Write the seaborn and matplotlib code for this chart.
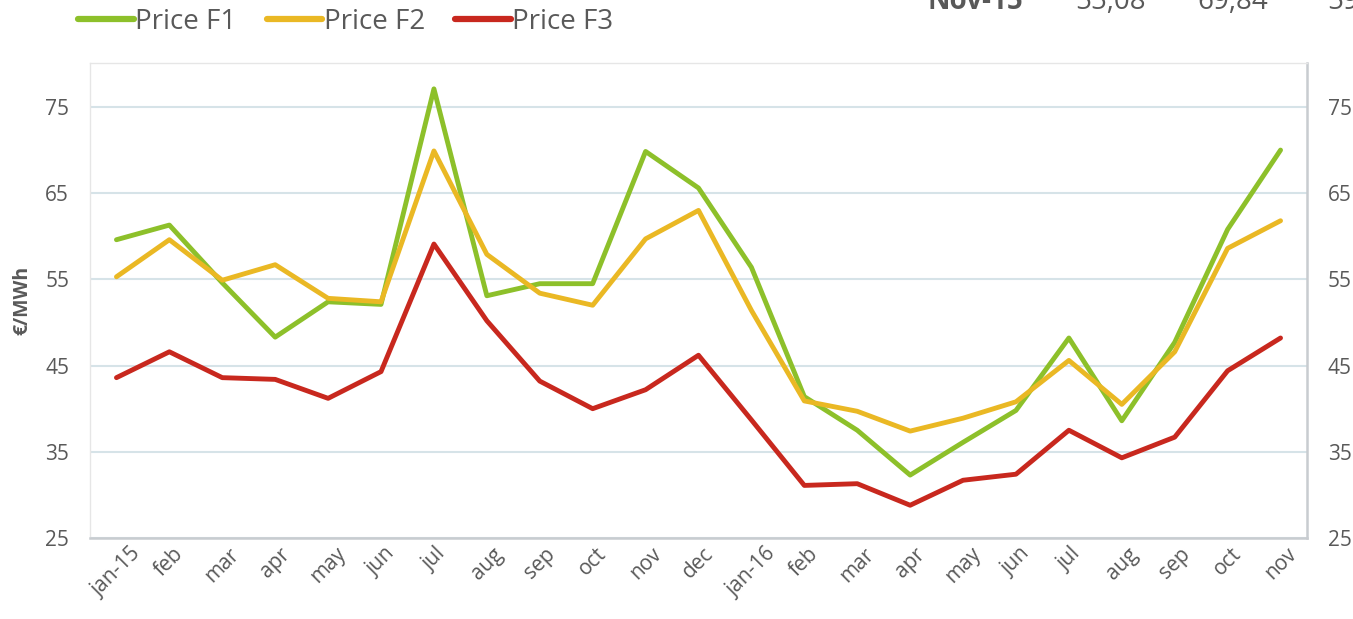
import numpy as np
import pandas as pd
import matplotlib
matplotlib.use("Agg")
import matplotlib.pyplot as plt
import seaborn as sns
from matplotlib.lines import Line2D

months = ["jan-15", "feb", "mar", "apr", "may", "jun", "jul", "aug", "sep", "oct", "nov", "dec",
          "jan-16", "feb", "mar", "apr", "may", "jun", "jul", "aug", "sep", "oct", "nov"]
price_f1 = [59.6, 61.3, 54.6, 48.3, 52.4, 52.1, 77.1, 53.1, 54.5, 54.5, 69.84, 65.6,
            56.4, 41.4, 37.5, 32.3, 36.1, 39.8, 48.2, 38.6, 47.7, 60.8, 70.0]
price_f2 = [55.3, 59.6, 54.9, 56.7, 52.8, 52.4, 69.9, 57.9, 53.4, 52.0, 59.7, 63.0,
            51.4, 40.9, 39.7, 37.4, 38.9, 40.8, 45.6, 40.5, 46.6, 58.6, 61.8]
price_f3 = [43.6, 46.6, 43.6, 43.4, 41.2, 44.3, 59.1, 50.2, 43.2, 40.0, 42.2, 46.2,
            38.7, 31.1, 31.3, 28.8, 31.7, 32.4, 37.5, 34.3, 36.7, 44.4, 48.2]
series_names = ["Price F1", "Price F2", "Price F3"]
colors = ["#8dc02a", "#eab824", "#c8281e"]
yticks = [25, 35, 45, 55, 65, 75]
header_text = ["Nov-15", "55,08", "69,84", "59"]

sns.set_theme(style="white")
plt.rcParams['font.family'] = ['Open Sans', 'DejaVu Sans']

idx = np.arange(len(months))
df = pd.DataFrame({
    "x": np.tile(idx, 3),
    "value": price_f1 + price_f2 + price_f3,
    "series": np.repeat(series_names, len(months)),
})

fig = plt.figure(figsize=(13.53, 6.19), dpi=100)
ax = fig.add_axes([90/1353, (619-538)/619, (1307-90)/1353, (538-63)/619])

text_color = "#595959"
grid_color = "#d6e3e8"

sns.lineplot(data=df, x="x", y="value", hue="series", palette=colors,
             linewidth=3.5, ax=ax, legend=False, sort=False)

ax.set_xlim(-0.5, len(months) - 0.5)
ax.set_ylim(25, 80.1)
ax.set_yticks(yticks)
ax.yaxis.grid(True, color=grid_color, linewidth=1.5)
ax.xaxis.grid(False)
ax.set_axisbelow(True)
ax.set_xticks(idx)
ax.set_xticklabels(months, rotation=45, ha="center", color=text_color, fontsize=15)
ax.tick_params(axis="y", labelsize=15, labelcolor=text_color, length=0, pad=15,
               right=True, labelright=True)
ax.tick_params(axis="x", length=0, pad=4)
ax.set_xlabel("")
ax.set_ylabel("€/MWh", fontsize=14, fontweight="bold", color=text_color)
ax.yaxis.set_label_coords((32 - 90) / 1217, 0.5)
for s in ["left", "top"]:
    ax.spines[s].set_color("#e6e6e6")
    ax.spines[s].set_linewidth(1.0)
for s in ["right", "bottom"]:
    ax.spines[s].set_color("#c8ccd0")
    ax.spines[s].set_linewidth(1.8)

handles = [Line2D([0], [0], color=c, linewidth=4.5, solid_capstyle="round") for c in colors]
fig.legend(handles, series_names, loc="center left", bbox_to_anchor=(78/1353, 1 - 22/619),
           ncol=3, frameon=False, fontsize=20, handlelength=2.0, handletextpad=0.05,
           columnspacing=1.1, labelcolor=text_color, borderaxespad=0, borderpad=0)

# header row, cut off at the top of the picture
hx = [928, 1075, 1197, 1327]
for x, t in zip(hx, header_text):
    fig.text(x/1353, 1 - 9/619, t, fontsize=20, color=text_color,
             fontweight="bold" if t == "Nov-15" else "normal", va="baseline", ha="left")

fig.savefig("out.png", dpi=100)
